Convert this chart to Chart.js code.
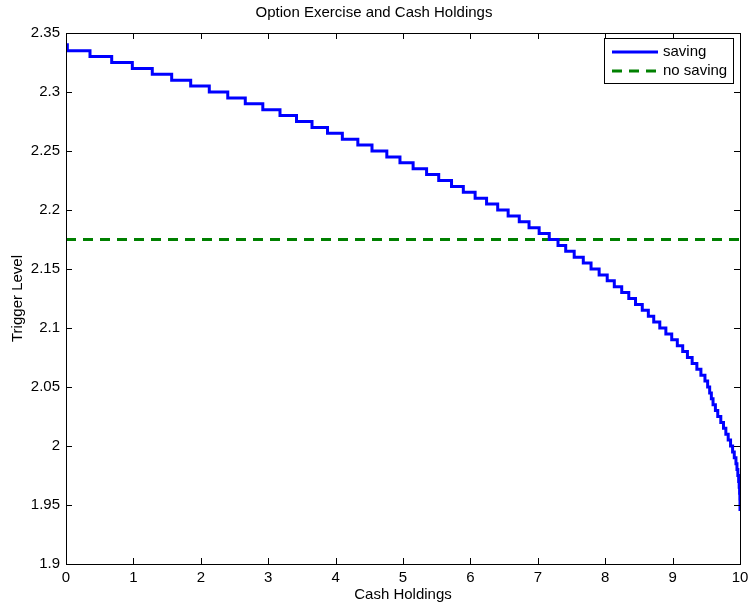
<!DOCTYPE html>
<html>
<head>
<meta charset="utf-8">
<script src="https://cdn.jsdelivr.net/npm/chart.js@4/dist/chart.umd.min.js"></script>
<style>
  body { margin: 0; background: #fff; }
  #wrap { width: 748px; height: 604px; }
</style>
</head>
<body>
<div id="wrap"><canvas id="trigger" width="748" height="604"></canvas></div>
<script>
// x where each new trigger level starts, and that level
var cashHoldings = [
    0, 0.02, 0.356, 0.678, 0.984, 1.28, 1.568, 1.85, 2.126, 2.40,
    2.66, 2.92, 3.175, 3.42, 3.65, 3.88, 4.10, 4.33, 4.54, 4.76,
    4.955, 5.15, 5.35, 5.53, 5.72, 5.895, 6.07, 6.24, 6.405, 6.56,
    6.725, 6.87, 7.02, 7.17, 7.30, 7.414, 7.54, 7.675, 7.79, 7.91,
    8.03, 8.135, 8.245, 8.35, 8.45, 8.55, 8.64, 8.72, 8.81, 8.90,
    8.987, 9.07, 9.15, 9.22, 9.29, 9.36, 9.42, 9.48, 9.52, 9.55,
    9.575, 9.60, 9.635, 9.67, 9.715, 9.755, 9.79, 9.825, 9.86, 9.89,
    9.915, 9.94, 9.955, 9.968, 9.98, 9.988, 9.994, 9.998, 10, 10
];
var savingTrigger = [
    2.34, 2.335, 2.33, 2.325, 2.32, 2.315, 2.31, 2.305, 2.30, 2.295,
    2.29, 2.285, 2.28, 2.275, 2.27, 2.265, 2.26, 2.255, 2.25, 2.245,
    2.24, 2.235, 2.23, 2.225, 2.22, 2.215, 2.21, 2.205, 2.20, 2.195,
    2.19, 2.185, 2.18, 2.175, 2.17, 2.165, 2.16, 2.155, 2.15, 2.145,
    2.14, 2.135, 2.13, 2.125, 2.12, 2.115, 2.11, 2.105, 2.10, 2.095,
    2.09, 2.085, 2.08, 2.075, 2.07, 2.065, 2.06, 2.055, 2.05, 2.045,
    2.04, 2.035, 2.03, 2.025, 2.02, 2.015, 2.01, 2.005, 2.00, 1.995,
    1.99, 1.985, 1.98, 1.975, 1.97, 1.965, 1.96, 1.955, 1.95, 1.945
];
var noSavingCash = [0, 10];
var noSavingTrigger = [2.175, 2.175];

var seriesNames = ["saving", "no saving"];
var chartTitle = 'Option Exercise and Cash Holdings';
var xRange = [0, 10];
var yRange = [1.9, 2.35];

function pts(xs, ys) {
    return xs.map(function (x, i) { return { x: x, y: ys[i] }; });
}

var fontFam = "'Liberation Sans', Arial, Helvetica, sans-serif";

// MATLAB style box with inward ticks, title and a boxed legend
var matlabBox = {
    id: 'matlabBox',
    afterDraw: function (chart) {
        var ctx = chart.ctx, a = chart.chartArea;
        var xs = chart.scales.x, ys = chart.scales.y;
        ctx.save();
        ctx.strokeStyle = '#000';
        ctx.lineWidth = 1;
        ctx.strokeRect(Math.round(a.left) + 0.5, Math.round(a.top) + 0.5,
            Math.round(a.right - a.left), Math.round(a.bottom - a.top));
        ctx.beginPath();
        xs.ticks.forEach(function (t) {
            var px = Math.round(xs.getPixelForValue(t.value)) + 0.5;
            ctx.moveTo(px, a.bottom); ctx.lineTo(px, a.bottom - 6);
            ctx.moveTo(px, a.top); ctx.lineTo(px, a.top + 6);
        });
        ys.ticks.forEach(function (t) {
            var py = Math.round(ys.getPixelForValue(t.value)) + 0.5;
            ctx.moveTo(a.left, py); ctx.lineTo(a.left + 6, py);
            ctx.moveTo(a.right, py); ctx.lineTo(a.right - 6, py);
        });
        ctx.stroke();

        // title, centred on the figure
        ctx.font = '15px ' + fontFam;
        ctx.fillStyle = '#000';
        ctx.textAlign = 'center';
        ctx.textBaseline = 'middle';
        ctx.fillText(chartTitle, chart.width / 2, 13);

        // legend
        var lx = 604, ly = 38, lw = 129, lh = 45;
        ctx.fillStyle = '#fff';
        ctx.fillRect(lx, ly, lw, lh);
        ctx.strokeRect(lx + 0.5, ly + 0.5, lw, lh);
        ctx.textAlign = 'left';
        chart.data.datasets.forEach(function (ds, i) {
            var cy = ly + 14 + i * 19;
            ctx.beginPath();
            ctx.strokeStyle = ds.borderColor;
            ctx.lineWidth = ds.borderWidth;
            ctx.setLineDash(ds.borderDash || []);
            ctx.moveTo(612, cy); ctx.lineTo(658, cy);
            ctx.stroke();
            ctx.setLineDash([]);
            ctx.fillStyle = '#000';
            ctx.fillText(ds.label, 663, cy);
        });
        ctx.restore();
    }
};

new Chart(document.getElementById('trigger'), {
    type: 'line',
    data: {
        datasets: [{
            label: seriesNames[0],
            data: pts(cashHoldings, savingTrigger),
            borderColor: '#0000ff',
            borderWidth: 3,
            stepped: 'before',
            pointRadius: 0,
            fill: false
        }, {
            label: seriesNames[1],
            data: pts(noSavingCash, noSavingTrigger),
            borderColor: '#008000',
            borderWidth: 3,
            borderDash: [10, 7],
            pointRadius: 0,
            fill: false
        }]
    },
    options: {
        responsive: false,
        animation: false,
        layout: { padding: { left: 0, right: 8, top: 33, bottom: 0 } },
        plugins: {
            legend: { display: false },
            tooltip: { enabled: false },
            title: { display: false }
        },
        scales: {
            x: {
                type: 'linear',
                min: xRange[0], max: xRange[1],
                grid: { display: false, drawTicks: false },
                border: { display: false },
                ticks: { stepSize: 1, color: '#000', padding: 5,
                    font: { family: fontFam, size: 15 } },
                title: { display: true, text: 'Cash Holdings', color: '#000',
                    font: { family: fontFam, size: 15 }, padding: { top: 0, bottom: 0 } },
                afterFit: function (s) { s.height = 40; s.paddingLeft = 0; s.paddingRight = 0; }
            },
            y: {
                min: yRange[0], max: yRange[1],
                grid: { display: false, drawTicks: false },
                border: { display: false },
                ticks: { stepSize: 0.05, color: '#000', padding: 6,
                    font: { family: fontFam, size: 15 },
                    callback: function (v) { return String(+v.toFixed(2)); } },
                title: { display: true, text: 'Trigger Level', color: '#000',
                    font: { family: fontFam, size: 15 }, padding: { top: 9, bottom: 0 } },
                afterFit: function (s) { s.width = 66; s.paddingTop = 0; s.paddingBottom = 0; }
            }
        }
    },
    plugins: [matlabBox]
});
</script>
</body>
</html>
